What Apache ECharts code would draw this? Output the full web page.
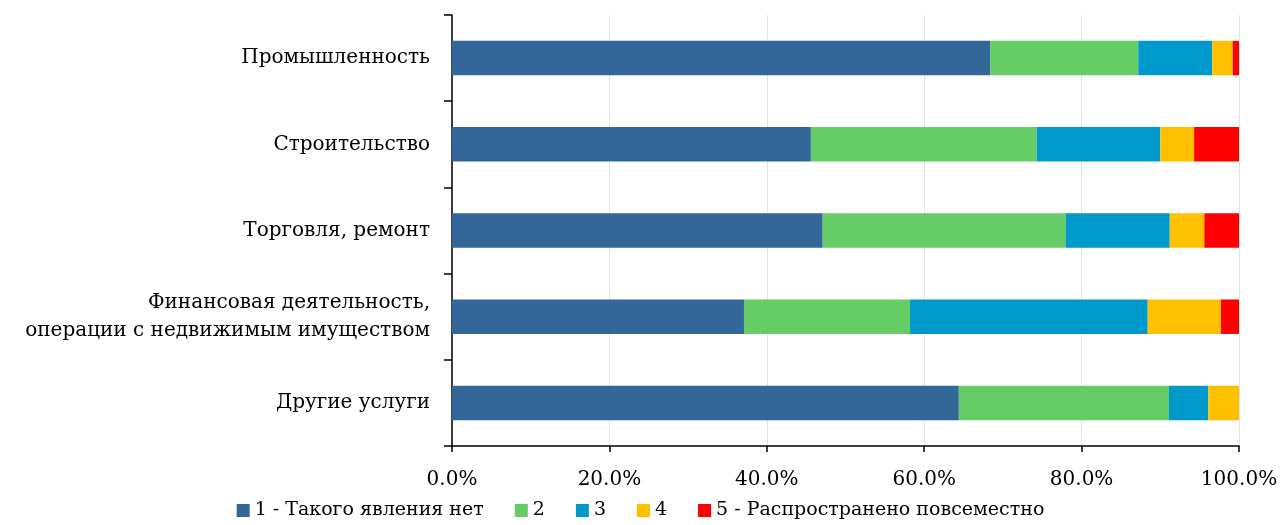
<!DOCTYPE html>
<html>
<head>
<meta charset="utf-8">
<script src="https://cdn.jsdelivr.net/npm/echarts@6/dist/echarts.min.js"></script>
<style>
  html, body { margin: 0; padding: 0; background: #fff; }
  #chart { width: 1281px; height: 525px; }
</style>
</head>
<body>
<div id="chart"></div>
<script>
// отрасли (сверху вниз)
const categories = [
  'Промышленность',
  'Строительство',
  'Торговля, ремонт',
  'Финансовая деятельность,\nоперации с недвижимым имуществом',
  'Другие услуги'
];
const seriesNames = ['1 - Такого явления нет', '2', '3', '4', '5 - Распространено повсеместно'];
// доли ответов, %
const s1 = [68.4, 45.6, 47.1, 37.1, 64.4];
const s2 = [18.8, 28.7, 30.9, 21.1, 26.7];
const s3 = [9.4, 15.7, 13.2, 30.2, 5.0];
const s4 = [2.6, 4.3, 4.4, 9.3, 3.9];
const s5 = [0.8, 5.7, 4.4, 2.3, 0];
const xTicks = [0, 20, 40, 60, 80, 100];

const colors = ['#336699', '#66CC66', '#0099CC', '#FFC000', '#FF0000'];
const font = 'DejaVu Serif';

const chart = echarts.init(document.getElementById('chart'));
chart.setOption({
  animation: false,
  textStyle: { fontFamily: font },
  grid: {
    left: 452,
    right: 42,
    top: 15,
    bottom: 79
  },
  legend: {
    bottom: 0,
    left: 'center',
    itemWidth: 13,
    itemHeight: 13,
    itemGap: 31,
    icon: 'rect',
    textStyle: { fontFamily: font, fontSize: 19, color: '#000' },
    data: seriesNames
  },
  xAxis: {
    type: 'value',
    min: xTicks[0],
    max: xTicks[xTicks.length - 1],
    interval: 20,
    axisLine: { show: true, lineStyle: { color: '#000', width: 1.5 } },
    axisTick: { show: true, length: 6, lineStyle: { color: '#000', width: 1.5 } },
    axisLabel: {
      color: '#000',
      fontSize: 20,
      fontFamily: font,
      margin: 24,
      formatter: v => v.toFixed(1) + '%'
    },
    splitLine: { show: true, lineStyle: { color: '#e3e3e3', width: 1 } }
  },
  yAxis: {
    type: 'category',
    inverse: true,
    data: categories,
    axisLine: { show: true, lineStyle: { color: '#000', width: 1.5 } },
    axisTick: { show: true, length: 8, lineStyle: { color: '#000', width: 1.5 } },
    axisLabel: {
      color: '#000',
      fontSize: 20,
      fontFamily: font,
      margin: 22,
      lineHeight: 28,
      align: 'right'
    }
  },
  series: [s1, s2, s3, s4, s5].map((data, i) => ({
    name: seriesNames[i],
    type: 'bar',
    stack: 'total',
    barWidth: '40%',
    itemStyle: { color: colors[i] },
    data: data
  }))
});
</script>
</body>
</html>
